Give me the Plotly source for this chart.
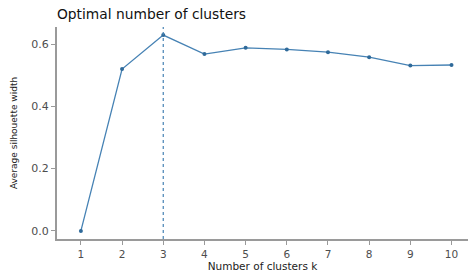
import plotly.graph_objects as go

k_values = [1, 2, 3, 4, 5, 6, 7, 8, 9, 10]
silhouette = [0.0, 0.52, 0.629, 0.568, 0.588, 0.583, 0.574, 0.558, 0.531, 0.533]
optimal_k = 3
y_ticks = [0.0, 0.2, 0.4, 0.6]
y_tick_labels = ["0.0", "0.2", "0.4", "0.6"]

FONT = "DejaVu Sans, Verdana, sans-serif"

fig = go.Figure()
fig.add_trace(go.Scatter(
    x=k_values, y=silhouette, mode="lines+markers",
    line=dict(color="#4682B4", width=1.3),
    marker=dict(color="#2F6A9A", size=4),
    showlegend=False, hoverinfo="skip",
))
fig.add_shape(type="line", x0=optimal_k, x1=optimal_k, y0=0, y1=1, yref="paper",
              line=dict(color="#4682B4", width=1.2, dash="dot"))

fig.update_layout(
    width=470, height=273,
    margin=dict(l=57, r=2, t=27, b=34),
    plot_bgcolor="white", paper_bgcolor="white",
    font=dict(family=FONT, color="#333333"),
    title=dict(text="Optimal number of clusters", x=57/470, xanchor="left",
               y=1 - 14/273, yanchor="middle",
               font=dict(size=13.8, color="#111111")),
)
fig.update_xaxes(
    range=[0.42, 10.4], tickmode="array", tickvals=k_values,
    ticktext=[str(k) for k in k_values], automargin=False,
    showgrid=False, zeroline=False,
    showline=True, linecolor="#9a9a9a", linewidth=2,
    ticks="outside", ticklen=4, tickcolor="#9a9a9a", tickwidth=1,
    tickfont=dict(size=10.5, color="#4d4d4d"),
    title=dict(text="Number of clusters k", font=dict(size=10.5, color="#222222"), standoff=4),
)
fig.update_yaxes(
    range=[-0.026, 0.655], tickmode="array", tickvals=y_ticks, ticktext=y_tick_labels,
    automargin=False,
    showgrid=False, zeroline=False,
    showline=True, linecolor="#9a9a9a", linewidth=2,
    ticks="outside", ticklen=4, tickcolor="#9a9a9a", tickwidth=1,
    tickfont=dict(size=11, color="#4d4d4d"),
    title=dict(text="Average silhouette width", font=dict(size=9, color="#222222"), standoff=12),
)

fig.write_html("out.html", config={"displayModeBar": False},
               post_script="document.body.style.margin='0px';")
